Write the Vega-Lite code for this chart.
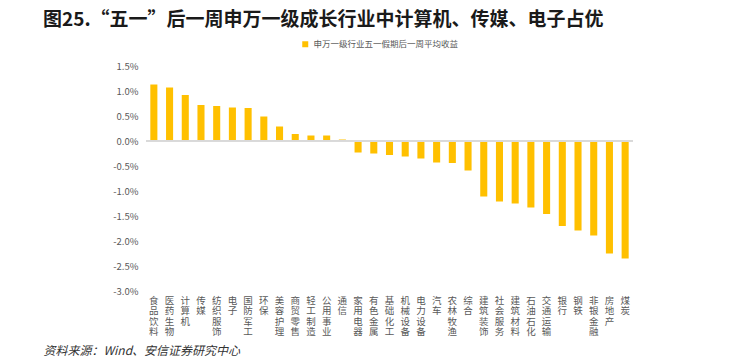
{
  "$schema": "https://vega.github.io/schema/vega-lite/v6.json",
  "width": 487,
  "height": 225,
  "autosize": {"type": "none"},
  "padding": {"left": 146, "top": 66, "right": 98, "bottom": 68},
  "background": "white",
  "config": {"view": {"stroke": null}, "font": "Noto Sans CJK SC"},
  "title": {
    "text": "图25.“五一”后一周申万一级成长行业中计算机、传媒、电子占优",
    "anchor": "start",
    "frame": "group",
    "dx": -103,
    "offset": 10,
    "fontSize": 19,
    "fontWeight": "bold",
    "color": "#1a1a1a",
    "font": "Noto Sans CJK SC"
  },
  "data": {
    "values": [
      {"industry": "食品饮料", "ret": 0.0113, "series": "申万一级行业五一假期后一周平均收益"},
      {"industry": "医药生物", "ret": 0.0107, "series": "申万一级行业五一假期后一周平均收益"},
      {"industry": "计算机", "ret": 0.0092, "series": "申万一级行业五一假期后一周平均收益"},
      {"industry": "传媒", "ret": 0.0072, "series": "申万一级行业五一假期后一周平均收益"},
      {"industry": "纺织服饰", "ret": 0.0070, "series": "申万一级行业五一假期后一周平均收益"},
      {"industry": "电子", "ret": 0.0067, "series": "申万一级行业五一假期后一周平均收益"},
      {"industry": "国防军工", "ret": 0.0066, "series": "申万一级行业五一假期后一周平均收益"},
      {"industry": "环保", "ret": 0.0049, "series": "申万一级行业五一假期后一周平均收益"},
      {"industry": "美容护理", "ret": 0.0029, "series": "申万一级行业五一假期后一周平均收益"},
      {"industry": "商贸零售", "ret": 0.0014, "series": "申万一级行业五一假期后一周平均收益"},
      {"industry": "轻工制造", "ret": 0.0011, "series": "申万一级行业五一假期后一周平均收益"},
      {"industry": "公用事业", "ret": 0.0011, "series": "申万一级行业五一假期后一周平均收益"},
      {"industry": "通信", "ret": 0.0003, "series": "申万一级行业五一假期后一周平均收益"},
      {"industry": "家用电器", "ret": -0.0023, "series": "申万一级行业五一假期后一周平均收益"},
      {"industry": "有色金属", "ret": -0.0025, "series": "申万一级行业五一假期后一周平均收益"},
      {"industry": "基础化工", "ret": -0.0028, "series": "申万一级行业五一假期后一周平均收益"},
      {"industry": "机械设备", "ret": -0.0031, "series": "申万一级行业五一假期后一周平均收益"},
      {"industry": "电力设备", "ret": -0.0035, "series": "申万一级行业五一假期后一周平均收益"},
      {"industry": "汽车", "ret": -0.0043, "series": "申万一级行业五一假期后一周平均收益"},
      {"industry": "农林牧渔", "ret": -0.0044, "series": "申万一级行业五一假期后一周平均收益"},
      {"industry": "综合", "ret": -0.0059, "series": "申万一级行业五一假期后一周平均收益"},
      {"industry": "建筑装饰", "ret": -0.0111, "series": "申万一级行业五一假期后一周平均收益"},
      {"industry": "社会服务", "ret": -0.0121, "series": "申万一级行业五一假期后一周平均收益"},
      {"industry": "建筑材料", "ret": -0.0125, "series": "申万一级行业五一假期后一周平均收益"},
      {"industry": "石油石化", "ret": -0.0133, "series": "申万一级行业五一假期后一周平均收益"},
      {"industry": "交通运输", "ret": -0.0146, "series": "申万一级行业五一假期后一周平均收益"},
      {"industry": "银行", "ret": -0.0170, "series": "申万一级行业五一假期后一周平均收益"},
      {"industry": "钢铁", "ret": -0.0179, "series": "申万一级行业五一假期后一周平均收益"},
      {"industry": "非银金融", "ret": -0.0189, "series": "申万一级行业五一假期后一周平均收益"},
      {"industry": "房地产", "ret": -0.0225, "series": "申万一级行业五一假期后一周平均收益"},
      {"industry": "煤炭", "ret": -0.0235, "series": "申万一级行业五一假期后一周平均收益"}
    ]
  },
  "layer": [
    {
      "mark": {"type": "bar", "color": "#FFC000"},
      "encoding": {
        "x": {
          "field": "industry",
          "type": "nominal",
          "sort": null,
          "scale": {"paddingInner": 0.55},
          "axis": {
            "orient": "bottom",
            "domain": false,
            "ticks": false,
            "labelAngle": 0,
            "labelBaseline": "top",
            "labelPadding": 4,
            "labelFontSize": 9.5,
            "labelLineHeight": 10.5,
            "labelColor": "#595959",
            "labelExpr": "split(datum.label, '')",
            "title": "资料来源：Wind、安信证券研究中心",
            "titleAnchor": "start",
            "titleAlign": "left",
            "titleBaseline": "middle",
            "titleX": -103,
            "titleY": 59,
            "titleFontSize": 12,
            "titleFontWeight": "normal",
            "titleFontStyle": "italic",
            "titleColor": "#333333"
          }
        },
        "y": {
          "field": "ret",
          "type": "quantitative",
          "scale": {"domain": [-0.03, 0.015001], "nice": false, "zero": false},
          "axis": {
            "values": [-0.03, -0.025, -0.02, -0.015, -0.01, -0.005, 0, 0.005, 0.01, 0.015],
            "labelExpr": "replace(format(datum.value, '.1%'), '−', '-')",
            "labelOverlap": false,
            "domain": false,
            "ticks": false,
            "grid": false,
            "labelFontSize": 9.5,
            "labelColor": "#595959",
            "labelPadding": 8,
            "title": null
          }
        },
        "color": {
          "field": "series",
          "type": "nominal",
          "scale": {"range": ["#FFC000"]},
          "legend": {
            "orient": "none",
            "legendX": 155,
            "legendY": -26,
            "title": null,
            "symbolType": "square",
            "symbolSize": 36,
            "labelFontSize": 8.5,
            "labelLimit": 400,
            "labelColor": "#595959"
          }
        }
      }
    },
    {
      "mark": {"type": "rule", "color": "#D9D9D9", "strokeWidth": 1},
      "encoding": {
        "y": {
          "datum": 0,
          "type": "quantitative",
          "axis": {
            "values": [-0.03, -0.025, -0.02, -0.015, -0.01, -0.005, 0, 0.005, 0.01, 0.015],
            "labelExpr": "replace(format(datum.value, '.1%'), '−', '-')",
            "labelOverlap": false,
            "domain": false,
            "ticks": false,
            "grid": false,
            "labelFontSize": 9.5,
            "labelColor": "#595959",
            "labelPadding": 8,
            "title": null
          }
        }
      }
    }
  ]
}
